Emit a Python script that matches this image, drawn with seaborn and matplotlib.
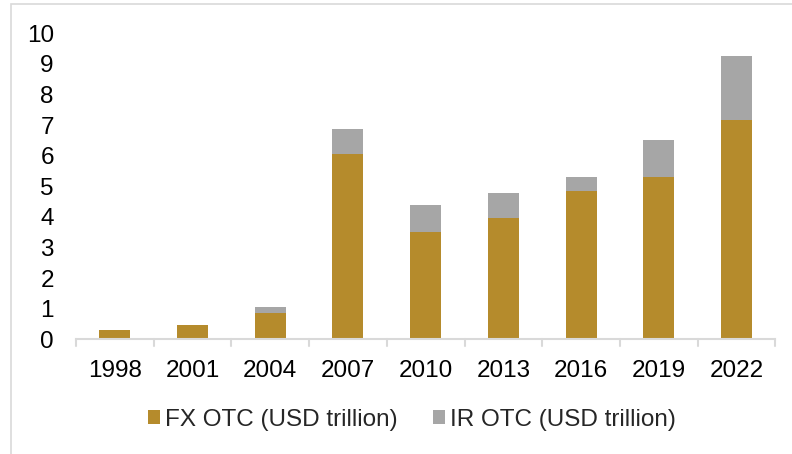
import matplotlib
matplotlib.use("Agg")
import matplotlib.pyplot as plt
import seaborn as sns
import pandas as pd
from matplotlib.patches import Patch, Rectangle

years = ["1998", "2001", "2004", "2007", "2010", "2013", "2016", "2019", "2022"]
fx_otc = [0.30, 0.46, 0.87, 6.04, 3.50, 3.95, 4.84, 5.30, 7.17]
ir_otc = [0.00, 0.00, 0.17, 0.84, 0.88, 0.83, 0.48, 1.21, 2.08]
yticks = list(range(0, 11))

gold = "#B58B2C"
grey = "#A6A6A6"
FS = 17.5

sns.set_theme(style="white")
plt.rcParams['font.family'] = ['Liberation Sans', 'DejaVu Sans']

df = pd.DataFrame({"year": years, "fx": fx_otc,
                   "total": [a + b for a, b in zip(fx_otc, ir_otc)]})

fig = plt.figure(figsize=(7.92, 4.54), dpi=100)
ax = fig.add_axes([76/792, (454-339.3)/454, (775.3-76)/792, (339.3-33.3)/454])

sns.barplot(data=df, x="year", y="total", color=grey, width=0.4, ax=ax,
            saturation=1, linewidth=0)
sns.barplot(data=df, x="year", y="fx", color=gold, width=0.4, ax=ax,
            saturation=1, linewidth=0)

ax.set_xlim(-0.5, len(years) - 0.5)
ax.set_ylim(0, 10)
ax.set_yticks(yticks)
ax.set_yticklabels([str(t) for t in yticks], fontsize=FS, color="black")
ax.set_xlabel("")
ax.set_ylabel("")
ax.tick_params(axis="x", labelsize=FS, colors="black", length=0, pad=15)
ax.tick_params(axis="y", length=0, pad=16)
for s in ["top", "right", "left"]:
    ax.spines[s].set_visible(False)
ax.spines["bottom"].set_color("#D9D9D9")
ax.spines["bottom"].set_linewidth(1.5)
# boundary ticks
for b in range(len(years) + 1):
    ax.plot([b - 0.5, b - 0.5], [0, -0.22], color="#D9D9D9", lw=1.5,
            clip_on=False, transform=ax.transData)
ax.grid(False)

handles = [Patch(facecolor=gold, edgecolor="none", label="FX OTC (USD trillion)"),
           Patch(facecolor=grey, edgecolor="none", label="IR OTC (USD trillion)")]
fig.legend(handles=handles, loc="center", bbox_to_anchor=(412/792, (454-420)/454),
           ncol=2, frameon=False, fontsize=FS, handlelength=0.5, handleheight=0.5,
           handletextpad=0.2, columnspacing=1.45)

fig.patches.append(Rectangle((11/792, -0.1), 1.2, (454-4)/454 + 0.1,
                             transform=fig.transFigure, fill=False,
                             edgecolor="#D9D9D9", lw=1.2))

fig.savefig("out.png", dpi=100)
